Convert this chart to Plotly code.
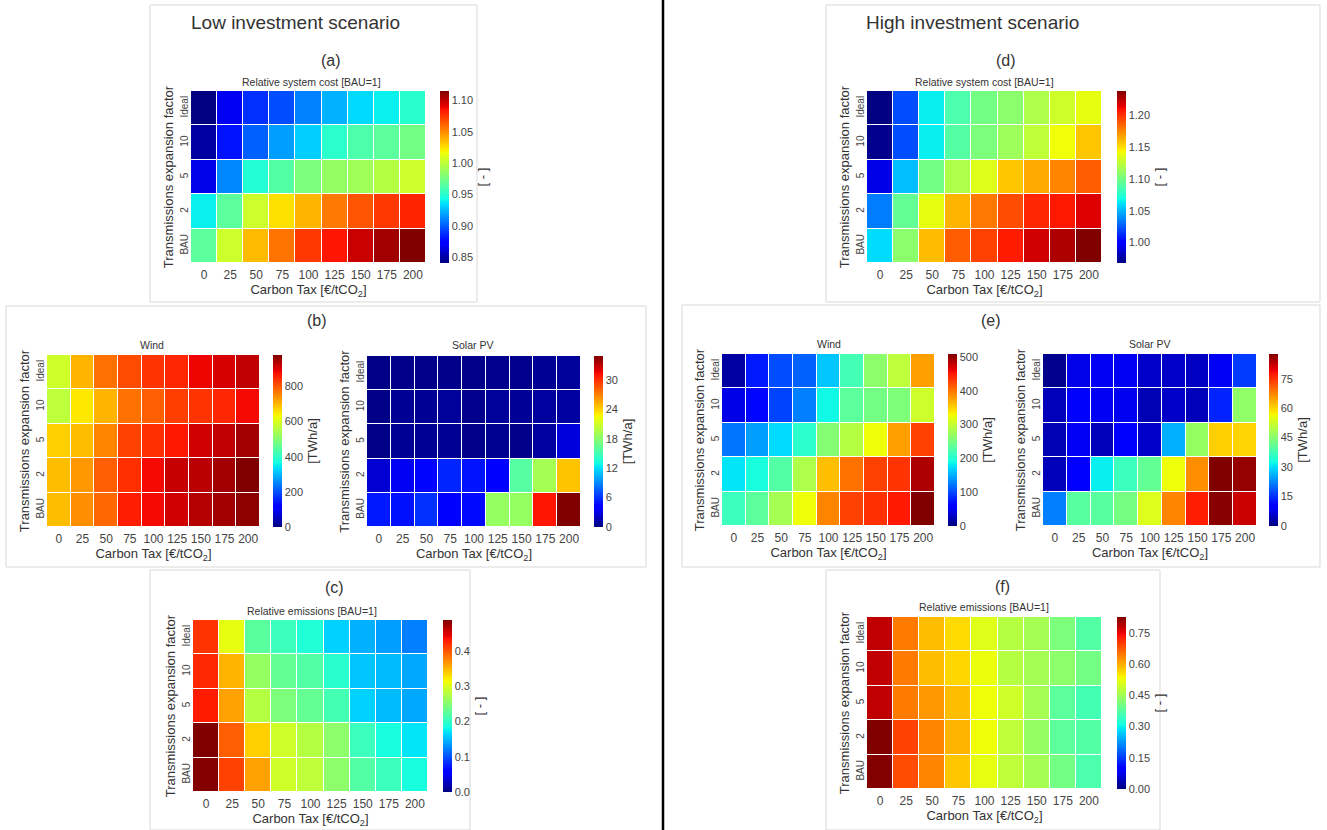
import numpy as np
import plotly.graph_objects as go

# ---------------- data ----------------
taxes = ["0", "25", "50", "75", "100", "125", "150", "175", "200"]
factors = ["Ideal", "10", "5", "2", "BAU"]   # top to bottom

low_cost = [
    [0.841, 0.868, 0.888, 0.896, 0.910, 0.923, 0.934, 0.940, 0.950],
    [0.849, 0.880, 0.901, 0.918, 0.931, 0.951, 0.962, 0.967, 0.975],
    [0.866, 0.912, 0.948, 0.964, 0.978, 0.986, 0.990, 0.997, 1.005],
    [0.940, 0.967, 1.005, 1.025, 1.038, 1.055, 1.066, 1.074, 1.080],
    [0.967, 1.005, 1.036, 1.057, 1.074, 1.084, 1.098, 1.107, 1.115],
]
high_cost = [
    [0.968, 1.022, 1.065, 1.087, 1.100, 1.108, 1.119, 1.130, 1.138],
    [0.971, 1.022, 1.065, 1.090, 1.103, 1.114, 1.125, 1.141, 1.157],
    [0.992, 1.052, 1.100, 1.119, 1.135, 1.157, 1.165, 1.176, 1.187],
    [1.035, 1.095, 1.138, 1.162, 1.179, 1.192, 1.203, 1.207, 1.216],
    [1.060, 1.108, 1.160, 1.187, 1.195, 1.206, 1.219, 1.227, 1.238],
]
low_wind = [
    [587, 704, 773, 812, 836, 851, 885, 905, 924],
    [567, 650, 704, 773, 792, 826, 836, 851, 880],
    [675, 694, 753, 822, 841, 866, 910, 924, 949],
    [694, 733, 792, 841, 880, 919, 929, 949, 978],
    [694, 743, 782, 860, 880, 910, 934, 949, 968],
]
low_solar = [
    [0.2, 0.3, 0.3, 0.3, 0.3, 0.4, 0.4, 0.6, 0.8],
    [0.2, 0.6, 0.6, 0.8, 0.4, 0.8, 0.7, 0.9, 1.0],
    [0.2, 0.6, 0.6, 0.6, 0.3, 0.5, 0.3, 0.9, 2.8],
    [2.5, 3.5, 4.5, 5.6, 5.0, 4.2, 15.8, 19.2, 24.5],
    [5.2, 4.9, 6.0, 4.3, 4.6, 18.5, 18.5, 31.0, 35.0],
]
high_wind = [
    [15, 76, 102, 112, 163, 219, 265, 295, 377],
    [46, 66, 97, 127, 188, 234, 249, 255, 305],
    [122, 143, 173, 204, 260, 290, 326, 377, 428],
    [178, 193, 229, 285, 361, 402, 428, 435, 489],
    [214, 234, 280, 326, 392, 428, 438, 450, 509],
]
high_solar = [
    [1.0, 8.0, 8.8, 8.8, 5.5, 5.5, 5.0, 9.0, 16.0],
    [4.5, 9.5, 8.8, 8.5, 4.0, 5.5, 4.5, 14.0, 46.0],
    [4.0, 9.0, 4.5, 10.5, 5.5, 26.0, 46.5, 60.5, 60.0],
    [4.5, 10.5, 31.5, 36.8, 41.0, 56.0, 66.5, 87.6, 86.0],
    [22.0, 40.0, 40.0, 43.0, 54.0, 67.5, 77.0, 87.0, 82.0],
]
low_emis = [
    [0.417, 0.307, 0.224, 0.205, 0.190, 0.161, 0.146, 0.137, 0.122],
    [0.424, 0.351, 0.259, 0.229, 0.220, 0.195, 0.156, 0.151, 0.142],
    [0.430, 0.361, 0.278, 0.244, 0.229, 0.210, 0.161, 0.151, 0.142],
    [0.488, 0.395, 0.337, 0.293, 0.278, 0.254, 0.205, 0.185, 0.171],
    [0.486, 0.410, 0.361, 0.293, 0.283, 0.254, 0.220, 0.205, 0.185],
]
high_emis = [
    [0.781, 0.645, 0.587, 0.562, 0.513, 0.471, 0.455, 0.414, 0.372],
    [0.781, 0.645, 0.587, 0.565, 0.525, 0.471, 0.455, 0.430, 0.405],
    [0.781, 0.645, 0.620, 0.587, 0.529, 0.496, 0.455, 0.380, 0.356],
    [0.827, 0.695, 0.637, 0.595, 0.529, 0.480, 0.438, 0.380, 0.372],
    [0.825, 0.686, 0.637, 0.579, 0.521, 0.480, 0.455, 0.405, 0.364],
]

# ---------------- style helpers ----------------
W, H = 1327, 830
FONT = "Liberation Sans, Arial, Helvetica, sans-serif"


def px(x):
    return x / W


def py(y):
    return 1 - y / H


def mpl_jet():
    r = [(0, 0), (0.35, 0), (0.66, 1), (0.89, 1), (1, 0.5)]
    g = [(0, 0), (0.125, 0), (0.375, 1), (0.64, 1), (0.91, 0), (1, 0)]
    b = [(0, 0.5), (0.11, 1), (0.34, 1), (0.65, 0), (1, 0)]
    stops = sorted(set([p[0] for p in r + g + b]))
    out = []
    for s in stops:
        cr = np.interp(s, [p[0] for p in r], [p[1] for p in r])
        cg = np.interp(s, [p[0] for p in g], [p[1] for p in g])
        cb = np.interp(s, [p[0] for p in b], [p[1] for p in b])
        out.append([float(s), "rgb(%d,%d,%d)" % (round(cr * 255), round(cg * 255), round(cb * 255))])
    return out


JET = mpl_jet()

panels = [
    dict(z=low_cost, title="Relative system cost [BAU=1]", cbt="[ - ]",
         box=(191, 426, 91, 263), cbx=440, zr=(0.841, 1.115), t0=0.85, dt=0.05, fmt=".2f", tt=(311, 82)),
    dict(z=high_cost, title="Relative system cost [BAU=1]", cbt="[ - ]",
         box=(867, 1102, 91, 263), cbx=1117, zr=(0.968, 1.238), t0=1.0, dt=0.05, fmt=".2f", tt=(984, 82)),
    dict(z=low_wind, title="Wind", cbt="[TWh/a]",
         box=(47, 260, 355, 527), cbx=273, zr=(0, 978), t0=0, dt=200, fmt="d", tt=(152, 345)),
    dict(z=low_solar, title="Solar PV", cbt="[TWh/a]",
         box=(367, 581, 356, 527), cbx=594, zr=(0, 34.9), t0=0, dt=6, fmt="d", tt=(472, 345)),
    dict(z=high_wind, title="Wind", cbt="[TWh/a]",
         box=(722, 935, 354, 526), cbx=948, zr=(0, 509), t0=0, dt=100, fmt="d", tt=(829, 344)),
    dict(z=high_solar, title="Solar PV", cbt="[TWh/a]",
         box=(1043, 1257, 354, 526), cbx=1269, zr=(0, 87.6), t0=0, dt=15, fmt="d", tt=(1149, 344)),
    dict(z=low_emis, title="Relative emissions [BAU=1]", cbt="[ - ]",
         box=(193, 428, 620, 792), cbx=443, zr=(0, 0.488), t0=0, dt=0.1, fmt=".1f", tt=(312, 611)),
    dict(z=high_emis, title="Relative emissions [BAU=1]", cbt="[ - ]",
         box=(867, 1102, 617, 789), cbx=1117, zr=(0, 0.827), t0=0, dt=0.15, fmt=".2f", tt=(984, 607)),
]

fig = go.Figure()
layout = {}
annotations = []

for i, p in enumerate(panels, start=1):
    sx = "" if i == 1 else str(i)
    x0, x1, y0, y1 = p["box"]
    fig.add_trace(go.Heatmap(
        z=p["z"], x=taxes, y=factors,
        colorscale=JET, zmin=p["zr"][0], zmax=p["zr"][1],
        xgap=1, ygap=1,
        xaxis="x" + sx, yaxis="y" + sx,
        colorbar=dict(
            thickness=9, thicknessmode="pixels",
            len=y1 - y0, lenmode="pixels",
            x=px(p["cbx"]), xanchor="left", xpad=0,
            y=py(y0), yanchor="top", ypad=0,
            outlinewidth=0, ticks="", tick0=p["t0"], dtick=p["dt"],
            tickformat=p["fmt"],
            tickfont=dict(size=11, color="#444", family=FONT),
            title=dict(text=p["cbt"], side="right", font=dict(size=13, color="#333", family=FONT)),
        ),
        hoverongaps=False,
    ))
    layout["xaxis" + sx] = dict(
        domain=[px(x0), px(x1)], anchor="y" + sx, type="category",
        showgrid=False, zeroline=False, showline=False, ticks="",
        ticklabelstandoff=3,
        tickfont=dict(size=12, color="#444", family=FONT),
        title=dict(text="Carbon Tax [€/tCO<sub>2</sub>]", standoff=0,
                   font=dict(size=13, color="#333", family=FONT)),
        automargin=False,
    )
    layout["yaxis" + sx] = dict(
        domain=[py(y1), py(y0)], anchor="x" + sx, type="category",
        autorange="reversed", showgrid=False, zeroline=False, showline=False,
        ticks="", tickangle=-90,
        tickfont=dict(size=10, color="#444", family=FONT),
        title=dict(text="Transmissions expansion factor", standoff=2,
                   font=dict(size=13, color="#333", family=FONT)),
        automargin=False,
    )
    annotations.append(dict(
        text=p["title"], x=px(p["tt"][0]), y=py(p["tt"][1]),
        xref="paper", yref="paper", showarrow=False,
        xanchor="center", yanchor="middle",
        font=dict(size=10.5, color="#333", family=FONT)))

# section labels and headings
labels = [
    ("Low investment scenario", 295, 22, 19),
    ("High investment scenario", 973, 22, 19),
    ("(a)", 331, 60, 16),
    ("(d)", 1006, 60, 16),
    ("(b)", 317, 320, 16),
    ("(e)", 991, 320, 16),
    ("(c)", 334, 587, 16),
    ("(f)", 1003, 586, 16),
]
for text, x, y, s in labels:
    annotations.append(dict(
        text=text, x=px(x), y=py(y), xref="paper", yref="paper",
        showarrow=False, xanchor="center", yanchor="middle",
        font=dict(size=s, color="#333", family=FONT)))

shapes = []
frames = [(150, 477, 5, 302), (826, 1320, 5, 302), (6, 646, 306, 567),
          (682, 1320, 305, 567), (150, 470, 570, 830), (826, 1160, 570, 830)]
for fx0, fx1, fy0, fy1 in frames:
    shapes.append(dict(type="rect", xref="paper", yref="paper",
                       x0=px(fx0), x1=px(fx1), y0=py(fy1), y1=py(fy0),
                       line=dict(color="#d9d9d9", width=1)))
shapes.append(dict(type="line", xref="paper", yref="paper",
                   x0=px(663), x1=px(663), y0=0, y1=1,
                   line=dict(color="black", width=2.5)))

fig.update_layout(
    width=W, height=H,
    margin=dict(l=0, r=0, t=0, b=0),
    paper_bgcolor="white", plot_bgcolor="white",
    font=dict(family=FONT, color="#333"),
    annotations=annotations, shapes=shapes,
    **layout,
)

fig.write_html(
    "out.html",
    config={"displayModeBar": False},
    post_script="document.body.style.margin='0';document.body.style.padding='0';"
                "document.body.style.overflow='hidden';",
)
